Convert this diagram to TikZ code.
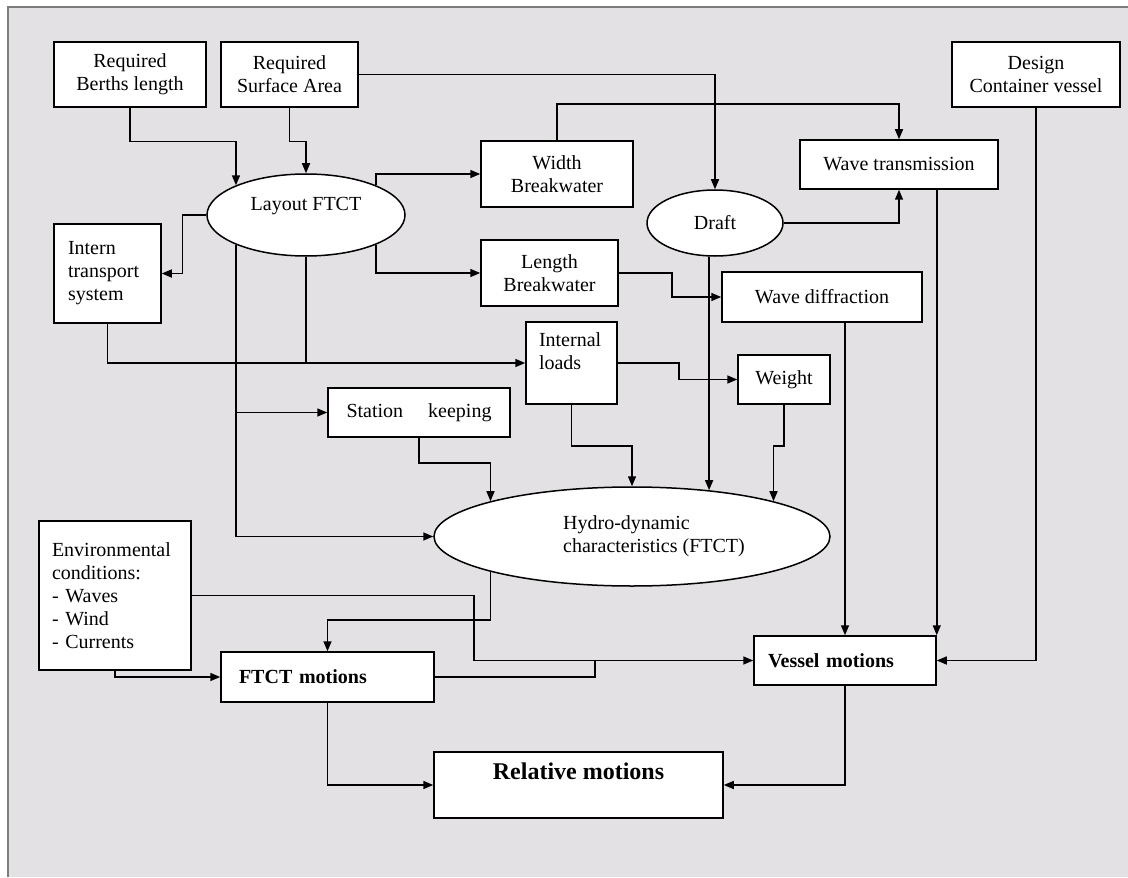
\documentclass[tikz,border=0pt]{standalone}
\usepackage{fontspec}
\setmainfont{Liberation Serif}
\usepackage{tikz}
\usetikzlibrary{arrows.meta, calc, shapes.geometric}

\definecolor{paper}{RGB}{228,225,228}
\definecolor{rim}{RGB}{125,125,125}

\begin{document}
\begin{tikzpicture}[x=0.5pt, y=-0.5pt,
  >={Triangle[length=5pt, width=4pt]}, line width=0.75pt,
  every node/.style={font=\fontsize{10}{11.5}\selectfont},
  box/.style={draw, fill=white, inner sep=0pt, align=center},
  lbox/.style={box, align=left},
  oval/.style={draw, fill=white, ellipse, inner sep=0pt, align=center}]

  \useasboundingbox (0,0) rectangle (1128,877);
  \fill[paper] (8,7) rectangle (1128,877);
  \draw[rim, line width=1pt] (8,877) -- (8,7) -- (1128,7);

  % entradas superiores
  \node[box, minimum width=76pt, minimum height=32.5pt] (berth) at (130,74.5)
    {Required\\Berths length};
  \node[box, minimum width=68.5pt, minimum height=32.5pt] (surf) at (289.5,74.5)
    {Required\\Surface Area};
  \node[box, minimum width=84pt, minimum height=32.5pt] (design) at (1036,74.5)
    {Design\\Container vessel};

  % disposicion
  \node[oval, minimum width=99pt, minimum height=41pt] (layout) at (306,215)
    {Layout FTCT\\\mbox{}};
  \node[lbox, text width=39.5pt, inner xsep=7pt, minimum width=53.5pt, minimum height=49.5pt]
    (intern) at (107.5,273.5) {Intern\\transport\\system};
  \node[box, minimum width=76pt, minimum height=33pt] (width) at (557,174)
    {Width\\Breakwater};
  \node[box, minimum width=68.5pt, minimum height=33pt] (length) at (549.5,273)
    {Length\\Breakwater};
  \node[oval, minimum width=68pt, minimum height=33pt] (draft) at (715,223) {Draft};
  \node[box, minimum width=99pt, minimum height=24.5pt] (wavetr) at (899,164.5)
    {Wave transmission};
  \node[box, minimum width=100pt, minimum height=25pt] (diffr) at (822,297)
    {Wave diffraction};
  \node[lbox, text width=32.5pt, inner xsep=6.5pt, minimum width=45.5pt, minimum height=41pt]
    (loads) at (571.5,363) {Internal\\loads\\\mbox{}};
  \node[box, minimum width=46pt, minimum height=24.5pt] (weight) at (784,379.5) {Weight};
  \node[box, minimum width=91pt, minimum height=24.5pt] (station) at (419,412.5)
    {Station\quad\ keeping};
  \node[oval, align=left, minimum width=198pt, minimum height=49.5pt] (hydro) at (632,536.5)
    {\hspace*{22pt}Hydro-dynamic\\\hspace*{22pt}characteristics (FTCT)};

  % movimientos
  \node[lbox, text width=63pt, inner xsep=6.5pt, minimum width=76pt, minimum height=74.5pt]
    (env) at (115,595.5)
    {Environmental\\conditions:\\- Waves\\- Wind\\- Currents};
  \node[lbox, text width=88.5pt, inner xsep=9pt, minimum width=106.5pt, minimum height=25pt,
    font=\fontsize{10}{11.5}\bfseries\selectfont] (ftct) at (327.5,677) {FTCT motions};
  \node[lbox, text width=77pt, inner xsep=7pt, minimum width=91pt, minimum height=24.5pt,
    font=\fontsize{10}{11.5}\bfseries\selectfont] (vessel) at (845,660.5) {Vessel motions};
  \node[box, minimum width=144.5pt, minimum height=33pt,
    font=\fontsize{12}{14}\bfseries\selectfont] (rel) at (578.5,785)
    {Relative motions\\\mbox{}};

  % conexiones de entrada
  \draw[->] (berth.south) -- ++(0,34) -| (layout.157);
  \draw[->] (surf.south) -- ++(0,34) -| (layout.north);
  \draw[->] (surf.east) -| (draft.north);
  \draw[->] (width.north) -- ++(0,-36) -| (wavetr.north);
  \draw[->] (draft.east) -| (wavetr.south);

  % salidas del layout
  \draw[->] (layout.23) |- (width.west);
  \draw[->] (layout.-23) |- (length.west);
  \draw[->] (layout.west) -- ++(-24,0) |- (intern.east);
  \draw[->] (layout.203) |- (hydro.west);
  \draw[->] (layout.203 |- station.west) -- (station.west);
  \draw (layout.south) -- (layout.south |- loads.west);
  \draw[->] (intern.south) |- (loads.west);

  % rompeolas y cargas
  \draw[->] (length.east) -- ++(53,0) |- (diffr.west);
  \draw[->] (loads.east) -- ++(61,0) |- (weight.west);
  \draw[->] (hydro.31 |- draft.south) -- (hydro.31);
  \draw[->] (loads.south) -- ++(0,41) -| (hydro.north);
  \draw[->] (weight.south) -- ++(0,41) -| (hydro.14);
  \draw[->] (station.south) -- ++(0,25) -| (hydro.166);

  % hacia el buque
  \draw[->] (diffr.south -| vessel.north) -- (vessel.north);
  \draw[->] (wavetr.south -| vessel.north east) -- (vessel.north east);
  \draw[->] (design.south) |- (vessel.east);
  \draw[->] (env.east) -- ++(282,0) |- (vessel.west);

  % movimientos FTCT
  \draw[->] (hydro.194) -- ++(0,48) -| (ftct.north);
  \draw[->] (env.south) |- (ftct.west);
  \coordinate (j1) at ($(ftct.east)+(160,0)$);
  \draw (ftct.east) -- (j1) -- (j1 |- vessel.west);

  % movimientos relativos
  \draw[->] (ftct.south) |- (rel.west);
  \draw[->] (vessel.south) |- (rel.east);
\end{tikzpicture}
\end{document}
